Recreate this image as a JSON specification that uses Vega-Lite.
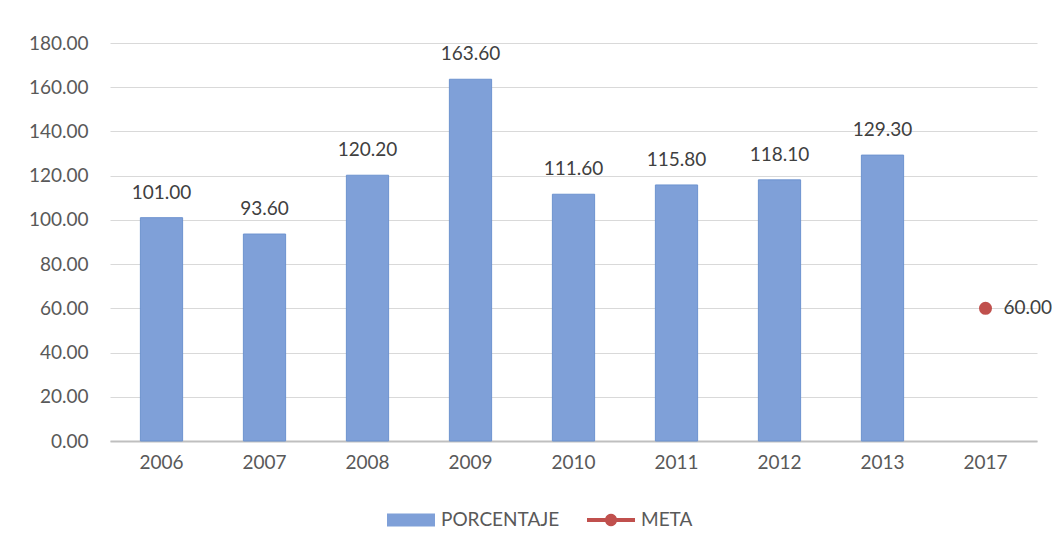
{
  "$schema": "https://vega.github.io/schema/vega-lite/v6.json",
  "autosize": "none",
  "width": 927,
  "height": 398,
  "padding": {"left": 110, "top": 43, "right": 15, "bottom": 107},
  "background": "white",
  "config": {
    "view": {"stroke": null},
    "font": "Lato",
    "axis": {"labelFont": "Lato", "labelColor": "#595959", "labelFontSize": 19, "titleFont": "Lato"},
    "legend": {"labelFont": "Lato"}
  },
  "data": {
    "values": [
      {"year": "2006", "value": 101.0, "serie": "PORCENTAJE"},
      {"year": "2007", "value": 93.6, "serie": "PORCENTAJE"},
      {"year": "2008", "value": 120.2, "serie": "PORCENTAJE"},
      {"year": "2009", "value": 163.6, "serie": "PORCENTAJE"},
      {"year": "2010", "value": 111.6, "serie": "PORCENTAJE"},
      {"year": "2011", "value": 115.8, "serie": "PORCENTAJE"},
      {"year": "2012", "value": 118.1, "serie": "PORCENTAJE"},
      {"year": "2013", "value": 129.3, "serie": "PORCENTAJE"},
      {"year": "2017", "value": 60.0, "serie": "META"}
    ]
  },
  "encoding": {
    "x": {
      "field": "year", "type": "nominal",
      "scale": {"domain": ["2006","2007","2008","2009","2010","2011","2012","2013","2017"], "paddingInner": 0.59, "paddingOuter": 0.295},
      "axis": {"title": null, "labelAngle": 0, "ticks": false, "domainColor": "#bfbfbf", "domainWidth": 2, "labelPadding": 12}
    },
    "y": {
      "field": "value", "type": "quantitative",
      "scale": {"domain": [0, 180], "nice": false},
      "axis": {"title": null, "values": [0,20,40,60,80,100,120,140,160,180], "format": ".2f", "ticks": false, "domain": false, "gridColor": "#d9d9d9", "gridWidth": 1, "labelPadding": 22}
    },
    "color": {
      "field": "serie", "type": "nominal",
      "scale": {"domain": ["PORCENTAJE", "META"], "range": ["#7fa0d8", "#c0504d"]},
      "legend": {
        "title": null, "orient": "none", "direction": "horizontal",
        "legendX": 277, "legendY": 453,
        "symbolSize": 2304, "labelFontSize": 19, "labelColor": "#595959",
        "labelOffset": 6, "columnPadding": 27, "symbolStrokeWidth": 0, "symbolOpacity": 1,
        "encode": {
          "symbols": {
            "update": {
              "shape": {"signal": "datum.value === 'META' ? 'M-1,-0.08H-0.24A0.25,0.25 0 0,1 0.24,-0.08H1V0.08H0.24A0.25,0.25 0 0,1 -0.24,0.08H-1Z' : 'M-1,-0.27H1V0.27H-1Z'"}
            }
          }
        }
      }
    }
  },
  "layer": [
    {
      "transform": [{"filter": "datum.serie === 'PORCENTAJE'"}],
      "mark": {"type": "bar", "stroke": "#6d93cf", "strokeWidth": 1}
    },
    {
      "transform": [{"filter": "datum.serie === 'PORCENTAJE'"}],
      "mark": {"type": "text", "baseline": "alphabetic", "dy": -19, "fontSize": 19, "color": "#404040"},
      "encoding": {"text": {"field": "value", "type": "quantitative", "format": ".2f"}, "color": {"value": "#404040"}}
    },
    {
      "transform": [{"filter": "datum.serie === 'META'"}],
      "mark": {"type": "point", "shape": "circle", "filled": true, "opacity": 1, "size": 170}
    },
    {
      "transform": [{"filter": "datum.serie === 'META'"}],
      "mark": {"type": "text", "align": "left", "baseline": "middle", "dx": 18, "fontSize": 19},
      "encoding": {"text": {"field": "value", "type": "quantitative", "format": ".2f"}, "color": {"value": "#404040"}}
    }
  ]
}
